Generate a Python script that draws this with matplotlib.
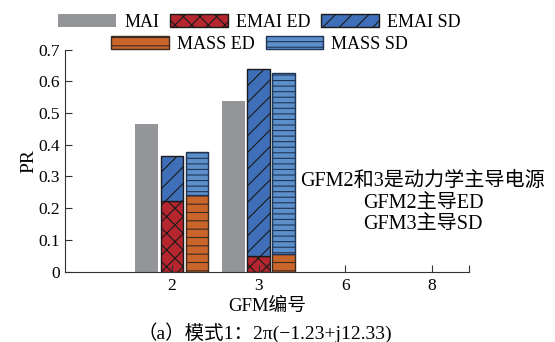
import matplotlib
matplotlib.use("Agg")
import matplotlib.pyplot as plt
import numpy as np
from matplotlib.patches import Patch

plt.rcParams['font.family'] = ['Liberation Serif', 'Noto Sans CJK SC']
plt.rcParams['hatch.linewidth'] = 0.8
plt.rcParams['axes.unicode_minus'] = True

# data
gfm_labels = ["2", "3", "6", "8"]
mai = [0.465, 0.538, 0.0, 0.0]
emai_ed = [0.223, 0.050, 0.0, 0.0]
emai_sd = [0.140, 0.588, 0.0, 0.0]
mass_ed = [0.240, 0.055, 0.0, 0.0]
mass_sd = [0.138, 0.570, 0.0, 0.0]

c_mai = "#939598"
c_emai_ed = "#b5262f"
c_emai_sd = "#3f6fb8"
c_mass_ed = "#c9652b"
c_mass_sd = "#5d8fcb"

h_emai_ed = "xx"
h_emai_sd = "//"
h_mass_ed = "--"
h_mass_sd = "---"


def draw(ax, pos, vals, bottom=None, **kw):
    vals = np.asarray(vals)
    keep = vals > 0
    b = None if bottom is None else np.asarray(bottom)[keep]
    ax.bar(pos[keep], vals[keep], w, bottom=b, **kw)


fig = plt.figure(figsize=(5.55, 3.42), dpi=100)
ax = fig.add_axes([0.117, 0.206, 0.728, 0.649])

x = np.arange(len(gfm_labels))
w = 0.26
off = 0.29

draw(ax, x - off, mai, color=c_mai, linewidth=0)
draw(ax, x, emai_ed, color=c_emai_ed, edgecolor="#1a1a1a", linewidth=1.0, hatch=h_emai_ed)
draw(ax, x, emai_sd, bottom=emai_ed, color=c_emai_sd, edgecolor="#1a1a1a", linewidth=1.0, hatch=h_emai_sd)
draw(ax, x + off, mass_ed, color=c_mass_ed, edgecolor="#3a2a20", linewidth=1.0, hatch=h_mass_ed)
draw(ax, x + off, mass_sd, bottom=mass_ed, color=c_mass_sd, edgecolor="#1f3555", linewidth=1.0, hatch=h_mass_sd)

xr = 3.427
ax.set_xlim(-1.234, xr)
ax.set_ylim(0, 0.7)
ax.set_xticks(list(x) + [xr])
ax.set_xticklabels(gfm_labels + [""])
ax.set_yticks(np.arange(0, 0.71, 0.1))
ax.set_yticklabels(["0", "0.1", "0.2", "0.3", "0.4", "0.5", "0.6", "0.7"])
ax.tick_params(direction="in", length=5, width=0.8, labelsize=12.5, color="#333333")
ax.tick_params(axis="x", pad=5)
for s in ["top", "right"]:
    ax.spines[s].set_visible(False)
for s in ["left", "bottom"]:
    ax.spines[s].set_linewidth(0.8)
    ax.spines[s].set_color("#333333")

ax.set_ylabel("PR", fontsize=14, labelpad=1)
ax.set_xlabel("GFM编号", fontsize=13.5, labelpad=2)

ax.text(0.886, 0.309, "GFM2和3是动力学主导电源\nGFM2主导ED\nGFM3主导SD",
        transform=ax.transAxes, ha="center", va="center", fontsize=14.5,
        linespacing=1.15)

fig.text(0.478, 0.028, "（a）模式1：2π(−1.23+j12.33)", ha="center", va="center", fontsize=14)

row1 = [Patch(facecolor=c_mai, linewidth=0, label="MAI"),
        Patch(facecolor=c_emai_ed, edgecolor="#1a1a1a", hatch=h_emai_ed, label="EMAI ED"),
        Patch(facecolor=c_emai_sd, edgecolor="#1a1a1a", hatch=h_emai_sd, label="EMAI SD")]
row2 = [Patch(facecolor=c_mass_ed, edgecolor="#3a2a20", hatch=h_mass_ed, label="MASS ED"),
        Patch(facecolor=c_mass_sd, edgecolor="#1f3555", hatch=h_mass_sd, label="MASS SD")]

leg_kw = dict(frameon=False, fontsize=13, handlelength=3.2, handleheight=0.75,
              handletextpad=0.45, columnspacing=0.6, borderpad=0, borderaxespad=0)
fig.legend(handles=row1, ncol=3, loc="center", bbox_to_anchor=(0.468, 0.935), **leg_kw)
fig.legend(handles=row2, ncol=2, loc="center", bbox_to_anchor=(0.468, 0.870), **leg_kw)

fig.savefig("out.png", dpi=100)
